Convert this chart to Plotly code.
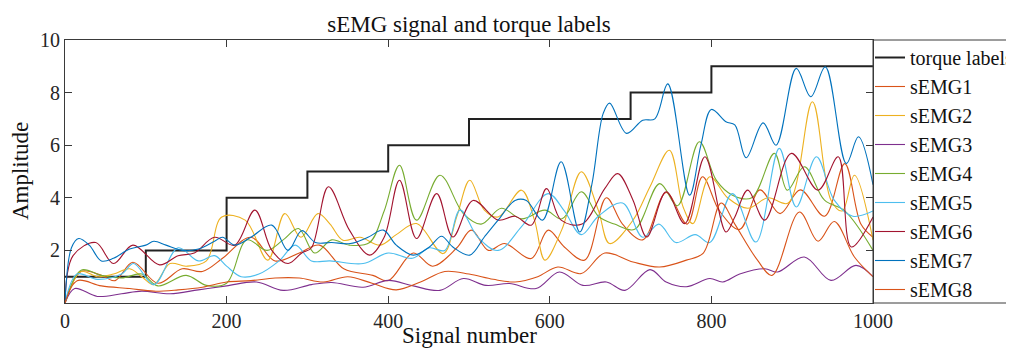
import plotly.graph_objects as go

# ---------------- data ----------------
torque_x = [0, 100, 200, 300, 400, 500, 600, 700, 800, 900, 1000]
torque_y = [1, 2, 4, 5, 6, 7, 7, 8, 9, 9, 9]

emg1_x = [0, 20, 45, 62, 84, 115, 145, 170, 195, 230, 260, 290, 315, 345, 381, 400, 431, 455, 485, 503, 524, 544, 577, 598, 618, 643, 670, 690, 715, 744, 770, 789, 810, 835, 860, 885, 910, 940, 965, 985, 1000]
emg1_y = [0, 1.2, 1.05, 0.85, 1.55, 0.75, 1.3, 1.2, 1.7, 2.5, 1.6, 1.9, 2.2, 1.3, 1.05, 0.85, 1.9, 1.4, 2.1, 2.77, 2.0, 2.26, 1.69, 2.77, 2.13, 1.63, 4.0, 3.0, 2.4, 4.2, 3.0, 4.8, 3.5, 2.8, 4.3, 3.4, 4.3, 3.3, 5.3, 3.0, 2.5]

emg2_x = [0, 20, 40, 60, 80, 95, 110, 130, 150, 175, 194, 223, 251, 272, 292, 313, 328, 344, 365, 390, 410, 435, 468, 485, 501, 519, 536, 565, 581, 594, 615, 639, 660, 674, 703, 724, 748, 765, 777, 798, 820, 845, 870, 895, 925, 948, 962, 977, 1000]
emg2_y = [0, 1.2, 1.0, 1.1, 1.3, 1.0, 0.7, 1.5, 1.4, 1.6, 3.27, 3.15, 1.63, 3.4, 2.5, 3.4, 3.0, 2.39, 2.5, 2.2, 2.6, 3.02, 1.88, 3.3, 4.67, 3.53, 3.27, 4.29, 3.15, 1.63, 2.8, 4.99, 3.53, 2.26, 3.15, 4.42, 5.81, 3.65, 3.02, 4.8, 4.0, 3.6, 4.0, 3.8, 7.65, 3.91, 3.5, 4.86, 2.39]

emg3_x = [0, 12, 40, 70, 95, 130, 165, 200, 237, 270, 305, 330, 369, 400, 431, 464, 493, 521, 550, 583, 612, 641, 670, 693, 724, 744, 769, 798, 814, 835, 866, 882, 915, 948, 979, 1000]
emg3_y = [0, 0.55, 0.25, 0.35, 0.45, 0.35, 0.5, 0.65, 0.8, 0.48, 0.7, 0.78, 0.6, 0.86, 0.65, 0.48, 0.93, 0.67, 0.74, 0.55, 1.18, 0.67, 0.8, 0.48, 1.27, 0.8, 0.62, 0.93, 0.8, 1.1, 1.3, 1.18, 1.75, 0.86, 1.43, 1.0]

emg4_x = [0, 20, 45, 70, 95, 115, 150, 175, 200, 225, 250, 270, 289, 309, 330, 352, 377, 395, 414, 435, 464, 493, 515, 540, 565, 594, 615, 639, 660, 680, 705, 736, 758, 785, 806, 826, 850, 878, 894, 915, 940, 965, 1000]
emg4_y = [0, 1.25, 1.05, 0.95, 1.1, 0.65, 1.05, 0.67, 0.75, 2.4, 2.0, 2.4, 2.83, 1.9, 2.4, 2.2, 2.3, 3.5, 5.24, 3.15, 4.86, 3.4, 3.0, 3.6, 3.2, 3.53, 3.2, 4.23, 3.3, 3.0, 2.8, 4.54, 3.7, 6.13, 4.67, 4.1, 4.0, 5.69, 4.29, 5.18, 3.91, 3.5, 2.0]

emg5_x = [0, 15, 40, 70, 85, 110, 140, 165, 185, 200, 218, 240, 265, 285, 305, 328, 369, 400, 430, 451, 470, 489, 511, 536, 565, 598, 618, 639, 660, 690, 715, 735, 756, 780, 798, 826, 855, 884, 905, 930, 952, 975, 1000]
emg5_y = [0, 1.1, 0.9, 1.1, 1.5, 0.7, 2.1, 1.6, 1.8, 1.4, 1.0, 1.1, 1.6, 2.2, 1.6, 1.6, 1.5, 1.9, 1.7, 2.1, 2.0, 3.53, 2.5, 2.0, 2.9, 4.16, 3.5, 2.6, 3.3, 3.8, 2.5, 3.0, 2.3, 2.6, 2.3, 4.16, 2.32, 5.88, 3.65, 5.56, 3.91, 3.3, 3.5]

emg6_x = [0, 10, 38, 60, 84, 117, 140, 160, 185, 210, 235, 256, 276, 293, 305, 326, 352, 377, 395, 414, 435, 460, 480, 505, 536, 557, 577, 596, 614, 640, 668, 684, 703, 720, 744, 767, 792, 818, 829, 845, 866, 899, 932, 957, 973, 1000]
emg6_y = [0, 1.8, 2.3, 1.5, 2.2, 1.45, 1.8, 1.9, 2.5, 2.2, 3.53, 2.0, 1.5, 1.9, 2.1, 4.42, 2.77, 1.82, 2.5, 4.67, 2.45, 4.16, 2.51, 3.9, 3.15, 3.3, 2.96, 4.35, 3.15, 3.0, 4.35, 4.92, 3.91, 2.51, 4.23, 3.02, 5.56, 2.7, 3.27, 4.29, 3.15, 5.69, 4.29, 5.56, 2.13, 3.27]

emg7_x = [0, 8, 17, 30, 45, 60, 80, 100, 110, 125, 145, 165, 185, 195, 210, 230, 256, 276, 293, 310, 330, 353, 375, 394, 410, 431, 451, 466, 480, 501, 519, 536, 557, 571, 591, 614, 637, 652, 666, 674, 695, 715, 730, 746, 773, 787, 800, 818, 829, 843, 864, 880, 905, 923, 941, 967, 982, 1000]
emg7_y = [0, 2.1, 2.45, 2.2, 1.6, 1.7, 2.05, 2.2, 2.35, 2.2, 2.0, 2.05, 2.35, 2.5, 2.2, 2.5, 2.96, 2.0, 2.75, 2.3, 2.3, 2.26, 2.5, 2.77, 2.2, 1.82, 2.13, 2.54, 2.13, 1.82, 2.51, 3.15, 3.9, 3.9, 3.15, 5.37, 2.7, 4.5, 7.2, 7.6, 6.45, 6.95, 7.0, 8.33, 4.1, 6.0, 7.36, 6.89, 6.77, 5.52, 6.85, 6.0, 8.92, 7.84, 8.98, 5.3, 6.32, 4.5]

emg8_x = [0, 15, 45, 80, 110, 140, 170, 200, 230, 260, 290, 320, 350, 380, 410, 440, 470, 500, 530, 557, 585, 610, 639, 668, 703, 736, 769, 790, 812, 829, 857, 875, 909, 932, 952, 977, 1000]
emg8_y = [0, 0.85, 0.65, 0.55, 0.45, 0.5, 0.6, 0.8, 0.85, 0.95, 0.95, 0.8, 1.0, 0.75, 0.5, 0.8, 1.2, 1.1, 0.9, 0.8, 1.0, 1.37, 1.12, 1.9, 1.56, 1.37, 1.63, 1.9, 3.8, 3.0, 1.63, 1.05, 3.46, 2.35, 3.1, 1.75, 1.0]

emg_names = ["sEMG1", "sEMG2", "sEMG3", "sEMG4", "sEMG5", "sEMG6", "sEMG7", "sEMG8"]
emg_colors = ["#D95319", "#EDB120", "#7E2F8E", "#77AC30", "#4DBEEE", "#A2142F", "#0072BD", "#D95319"]

x_ticks = [0, 200, 400, 600, 800, 1000]
y_ticks = [2, 4, 6, 8, 10]

# ---------------- figure ----------------
FONT = "Liberation Serif, Times New Roman, serif"
AXC = "#3a3a3a"

fig = go.Figure()
fig.add_trace(go.Scatter(x=torque_x, y=torque_y, mode="lines", name="torque labels",
                         line=dict(color="#222222", width=2, shape="hv")))

emg_x = [emg1_x, emg2_x, emg3_x, emg4_x, emg5_x, emg6_x, emg7_x, emg8_x]
emg_y = [emg1_y, emg2_y, emg3_y, emg4_y, emg5_y, emg6_y, emg7_y, emg8_y]
for xs, ys, nm, col in zip(emg_x, emg_y, emg_names, emg_colors):
    fig.add_trace(go.Scatter(x=xs, y=ys, mode="lines", name=nm,
                             line=dict(color=col, width=1.1, shape="spline", smoothing=1.0)))

fig.update_layout(
    width=1014, height=350,
    margin=dict(l=57, r=149, t=32, b=55, autoexpand=False),
    paper_bgcolor="white", plot_bgcolor="white",
    font=dict(family=FONT, size=20, color="#262626"),
    title=dict(text="sEMG signal and torque labels", x=0.5, xref="paper",
               y=1 - 16 / 350, yref="container", yanchor="middle",
               font=dict(family=FONT, size=23, color="#111111")),
    showlegend=True,
    legend=dict(x=1.0 - 3 / 808, xanchor="left", y=1.0 + 2 / 263, yanchor="top",
                bgcolor="rgba(255,255,255,0)", borderwidth=0, maxheight=340,
                font=dict(family=FONT, size=20, color="#111111"),
                itemwidth=30, tracegroupgap=0),
    xaxis=dict(range=[0, 1000], tickvals=x_ticks, ticks="inside", ticklen=7,
               tickcolor=AXC, showline=True, linecolor=AXC, linewidth=1,
               mirror="ticks", showgrid=False, zeroline=False,
               tickfont=dict(family=FONT, size=20, color="#262626")),
    yaxis=dict(range=[0, 10], tickvals=y_ticks, ticks="inside", ticklen=7,
               tickcolor=AXC, showline=True, linecolor=AXC, linewidth=1,
               mirror="ticks", showgrid=False, zeroline=False,
               tickfont=dict(family=FONT, size=20, color="#262626")),
    shapes=[dict(type="rect", xref="paper", yref="paper", x0=1.0, x1=1.3, y0=0, y1=1,
                 line=dict(color=AXC, width=1), fillcolor="rgba(0,0,0,0)", layer="above")],
    annotations=[
        dict(text="Signal number", xref="paper", yref="paper", x=0.5, y=-0.123,
             yanchor="middle", showarrow=False,
             font=dict(family=FONT, size=23, color="#111111")),
        dict(text="Amplitude", xref="paper", yref="paper", x=-0.055, y=0.5,
             xanchor="center", yanchor="middle", textangle=-90, showarrow=False,
             font=dict(family=FONT, size=23, color="#111111")),
    ],
)

fig.write_html("out.html")
